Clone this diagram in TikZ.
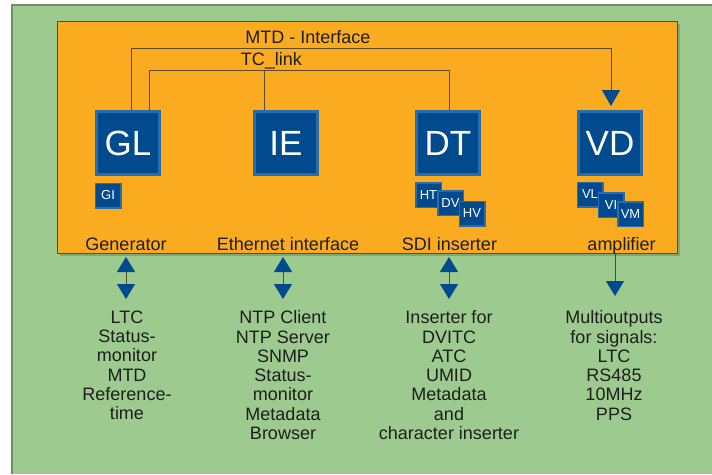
\documentclass[tikz,border=0pt]{standalone}
\usepackage{fontspec}
\setmainfont{Liberation Sans}
\usetikzlibrary{arrows.meta}
\definecolor{bggreen}{HTML}{9DCB8F}
\definecolor{bgedge}{HTML}{6F8F66}
\definecolor{shadowc}{HTML}{7FA874}
\definecolor{orng}{HTML}{FBAB1F}
\definecolor{dblue}{HTML}{004A8D}
\definecolor{bevel}{HTML}{2A6CAE}
\definecolor{wire}{HTML}{5B4B25}
\definecolor{txt}{HTML}{1E1E1E}
\begin{document}
\begin{tikzpicture}[x=1pt,y=-1pt,
  bigbox/.style={rectangle, fill=dblue, draw=bevel, line width=3pt,
    minimum width=63pt, minimum height=63pt, inner sep=0pt, text=white,
    font=\fontsize{35}{35}\selectfont},
  smallbox/.style={rectangle, fill=dblue, draw=bevel, line width=1.5pt,
    minimum width=25.5pt, minimum height=24.5pt, inner sep=0pt, text=white,
    font=\fontsize{13}{13}\selectfont},
  lbl/.style={inner sep=0pt, text=txt, font=\fontsize{18}{19.3}\selectfont},
  lst/.style={inner sep=0pt, text=txt, align=center, anchor=north,
    font=\fontsize{18}{19.3}\selectfont},
  wirel/.style={draw=wire, line width=0.9pt},
  dblarrow/.style={draw=wire, line width=1pt,
    {Triangle[width=18pt,length=15pt,color=dblue]}-{Triangle[width=18pt,length=15pt,color=dblue]}},
  onearrow/.style={draw=wire, line width=1pt,
    -{Triangle[width=18pt,length=15pt,color=dblue]}}
]
\useasboundingbox (0,0) rectangle (712,474);
\fill[white] (0,0) rectangle (712,474);
\fill[bggreen] (11,4) rectangle (712,474);
\draw[bgedge, line width=1.5pt] (11.75,474) -- (11.75,4.75) -- (712,4.75);
% orange panel
\fill[shadowc] (59.5,23.5) rectangle (679.5,255.5);
\draw[fill=orng, draw=wire, line width=0.8pt] (57,21) rectangle (677,253);

% big boxes
\node[bigbox] (GL) at (128,143) {GL};
\node[bigbox] (IE) at (286,143) {IE};
\node[bigbox] (DT) at (448,143) {DT};
\node[bigbox] (VD) at (610,143) {VD};

% small boxes
\node[smallbox] (GI) at (108,195.5) {GI};
\node[smallbox] (HT) at (428.5,195) {HT};
\node[smallbox] (DV) at (450.5,203) {DV};
\node[smallbox] (HV) at (472,213.5) {HV};
\node[smallbox] (VL) at (590,194.5) {VL};
\node[smallbox] (VI) at (611,205) {VI};
\node[smallbox] (VM) at (630.5,214) {VM};

% wires
\draw[wirel, -{Triangle[width=18pt,length=16pt,color=dblue]}, shorten >=4pt]
  ([xshift=3pt]GL.north) -- ++(0,-62) -| ([xshift=1pt]VD.north);
\draw[wirel] ([xshift=21pt]GL.north) -- ++(0,-40) -| ([xshift=1pt]DT.north);
\coordinate (tcj) at (264,70);
\draw[wirel] (tcj) -- (tcj |- IE.north);

\node[lbl, anchor=base] (mtd) at (308,43) {MTD - Interface};
\node[lbl, anchor=base] (tcl) at (271.5,65) {TC\_link};

% bottom labels inside panel
\node[lbl, anchor=base] (gen) at (126,250) {Generator};
\node[lbl, anchor=base] (eth) at (288,250) {Ethernet interface};
\node[lbl, anchor=base] (sdi) at (449.5,250) {SDI inserter};
\node[lbl, anchor=base] (amp) at (621.5,250) {amplifier};

% arrows below
\coordinate (a1t) at (126,257); \coordinate (a1b) at (126,299);
\coordinate (a2t) at (283,257); \coordinate (a2b) at (283,299);
\coordinate (a3t) at (449,257); \coordinate (a3b) at (449,299);
\coordinate (a4t) at (615,253); \coordinate (a4b) at (615,296);
\draw[dblarrow] (a1t) -- (a1b);
\draw[dblarrow] (a2t) -- (a2b);
\draw[dblarrow] (a3t) -- (a3b);
\draw[onearrow] (a4t) -- (a4b);

% lists
\node[lst] (l1) at (127,310.5) {LTC\\Status-\\monitor\\MTD\\Reference-\\time};
\node[lst] (l2) at (283,310.5) {NTP Client\\NTP Server\\SNMP\\Status-\\monitor\\Metadata\\Browser};
\node[lst] (l3) at (449,310.5) {Inserter for\\DVITC\\ATC\\UMID\\Metadata\\and\\character inserter};
\node[lst] (l4) at (614,310.5) {Multioutputs\\for signals:\\LTC\\RS485\\10MHz\\PPS};
\end{tikzpicture}
\end{document}
